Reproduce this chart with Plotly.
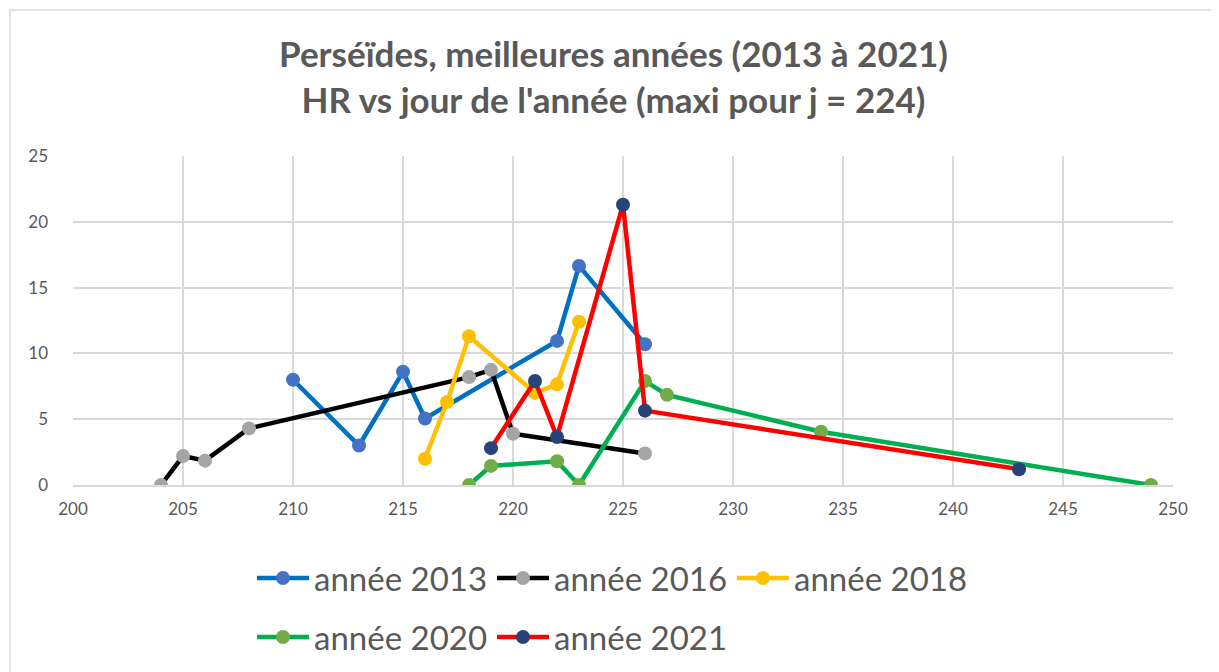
import plotly.graph_objects as go

x_2013 = [210, 213, 215, 216, 222, 223, 226]
y_2013 = [8.0, 3.0, 8.6, 5.05, 10.95, 16.65, 10.7]
x_2016 = [204, 205, 206, 208, 218, 219, 220, 226]
y_2016 = [0, 2.2, 1.85, 4.3, 8.2, 8.75, 3.9, 2.4]
x_2018 = [216, 217, 218, 221, 222, 223]
y_2018 = [2.0, 6.3, 11.3, 7.0, 7.65, 12.4]
x_2020 = [218, 219, 222, 223, 226, 227, 234, 249]
y_2020 = [0, 1.45, 1.8, 0, 7.9, 6.85, 4.05, 0]
x_2021 = [219, 221, 222, 225, 226, 243]
y_2021 = [2.8, 7.9, 3.65, 21.3, 5.65, 1.2]

names = ["année 2013", "année 2016", "année 2018", "année 2020", "année 2021"]
xs = [x_2013, x_2016, x_2018, x_2020, x_2021]
ys = [y_2013, y_2016, y_2018, y_2020, y_2021]
line_colors = ["#0070C0", "#000000", "#FFC000", "#00B050", "#FF0000"]
marker_colors = ["#4472C4", "#A5A5A5", "#FFC000", "#70AD47", "#264478"]
legend_ids = ["legend", "legend", "legend", "legend2", "legend2"]

FONT = "Lato"
OFF = 8  # page body margin
W, H = 1219 - OFF, 672 - OFF
L, R, T, B = 73 - OFF, 46, 156 - OFF, 187

fig = go.Figure()
for n, x, y, lc, mc, lg in zip(names, xs, ys, line_colors, marker_colors, legend_ids):
    fig.add_trace(go.Scatter(
        x=x, y=y, name=n, mode="lines+markers", legend=lg,
        line=dict(color=lc, width=4.5),
        marker=dict(color=mc, size=14),
    ))

pw = W - L - R
ph = H - T - B
fig.add_shape(type="rect", xref="paper", yref="paper",
              x0=(10 - OFF - L) / pw, x1=(W + 20 - L) / pw,
              y0=(H - B - (H + 20)) / ph, y1=(H - B - (10 - OFF)) / ph,
              line=dict(color="#D9D9D9", width=1.5), fillcolor="rgba(0,0,0,0)", layer="below")

leg_common = dict(orientation="h", xref="container", yref="container",
                  xanchor="left", yanchor="middle",
                  font=dict(size=33, color="#595959", family=FONT),
                  entrywidthmode="pixels", entrywidth=173, itemwidth=52,
                  bgcolor="rgba(0,0,0,0)")

fig.update_layout(
    width=W, height=H,
    margin=dict(l=L, r=R, t=T, b=B),
    paper_bgcolor="white", plot_bgcolor="white",
    font=dict(family=FONT, color="#595959"),
    title=dict(
        text="<b>Perséïdes, meilleures années (2013 à 2021)<br>HR vs jour de l'année (maxi pour j = 224)</b>",
        x=0.5, xanchor="center", y=1 - (67 - OFF) / H, yanchor="middle",
        font=dict(size=35, color="#595959", family=FONT),
    ),
    xaxis=dict(range=[200, 250], dtick=5, tick0=200, showgrid=True, gridcolor="#D9D9D9", gridwidth=1.5,
               zeroline=False, showline=True, linecolor="#D9D9D9", linewidth=1.5,
               tickfont=dict(size=17, color="#595959"), ticks="", ticklabelstandoff=8),
    yaxis=dict(range=[0, 25], dtick=5, showgrid=True, gridcolor="#D9D9D9", gridwidth=1.5,
               zeroline=False, showline=False,
               tickfont=dict(size=17, color="#595959"), ticks="", ticklabelstandoff=24),
    legend=dict(leg_common, x=(252 - OFF) / W, y=1 - (578 - OFF) / H),
    legend2=dict(leg_common, x=(252 - OFF) / W, y=1 - (637 - OFF) / H),
)

fig.write_html("out.html")
